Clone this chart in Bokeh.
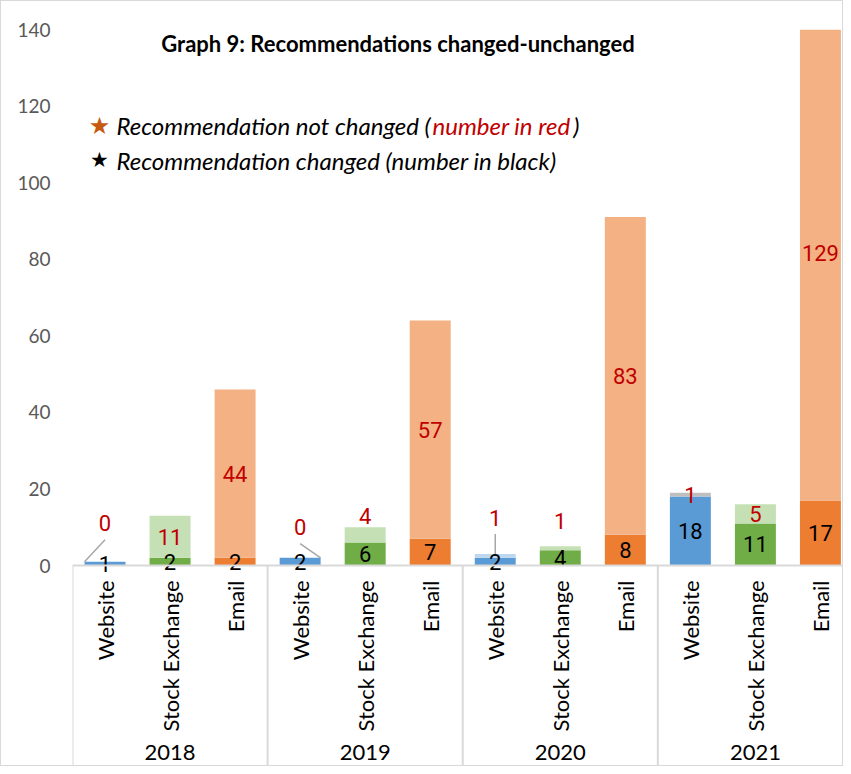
import math
from bokeh.plotting import figure
from bokeh.models import ColumnDataSource, Range1d, FixedTicker, Label, Span
from bokeh.core.properties import value
from bokeh.embed import file_html
from bokeh.resources import INLINE

# ---------------- data ----------------
years = ["2018", "2019", "2020", "2021"]
channels = ["Website", "Stock Exchange", "Email"]
changed = [1, 2, 2, 2, 6, 7, 2, 4, 8, 18, 11, 17]          # number in black
not_changed = [0, 11, 44, 0, 4, 57, 1, 1, 83, 1, 5, 129]   # number in red
y_ticks = [0, 20, 40, 60, 80, 100, 120, 140]

# ---------------- label placement (manually moved labels, data units) ----------------
red_label_y = [11, None, None, 10, 12.8, None, 12.5, 11.5, None, None, None, None]
leaders = [(0, -1), (3, 1), (6, 0)]  # (bar index, attach side)

# ---------------- styles ----------------
dark = {"Website": "#5B9BD5", "Stock Exchange": "#70AD47", "Email": "#ED7D31"}
light = {"Website": "#BDD7EE", "Stock Exchange": "#C5E0B4", "Email": "#F4B183"}
light_override = {("2021", "Website"): "#BFBFBF"}
BAR_W = 0.63
Y_MIN, Y_MAX = -52.76, 140
X_MAX = 11.87

n_ch = len(channels)
cats = [(y, c) for y in years for c in channels]
xs = [i + 0.5 for i in range(len(cats))]
totals = [a + b for a, b in zip(changed, not_changed)]

src = ColumnDataSource(dict(
    x=xs,
    changed=changed,
    total=totals,
    dark=[dark[c] for _, c in cats],
    light=[light_override.get((y, c), light[c]) for y, c in cats],
    black_y=[v / 2 for v in changed],
    black_txt=[str(v) for v in changed],
    red_y=[ry if ry is not None else a + b / 2 for ry, a, b in zip(red_label_y, changed, not_changed)],
    red_txt=[str(v) for v in not_changed],
    cat=[c for _, c in cats],
))

p = figure(width=843, height=766, output_backend="svg", toolbar_location=None,
           x_range=Range1d(0, X_MAX), y_range=Range1d(Y_MIN, Y_MAX),
           min_border_left=71, min_border_top=28, min_border_right=0, min_border_bottom=0,
           x_axis_location=None)
p.styles = {"border": "1px solid #D9D9D9", "box-sizing": "border-box"}
p.outline_line_color = None
p.xgrid.visible = False
p.ygrid.visible = False

ax = p.yaxis[0]
ax.ticker = FixedTicker(ticks=y_ticks)
ax.axis_line_color = None
ax.major_tick_line_color = None
ax.minor_tick_line_color = None
ax.major_tick_out = 0
ax.major_label_standoff = 22
ax.major_label_text_font = "Lato"
ax.major_label_text_font_size = "19px"
ax.major_label_text_color = "#595959"

# bars
p.vbar(x="x", bottom=0, top="changed", width=BAR_W, fill_color="dark", line_color=None, source=src)
p.vbar(x="x", bottom="changed", top="total", width=BAR_W, fill_color="light", line_color=None, source=src)

# axis line and group separators
p.add_layout(Span(location=0, dimension="width", line_color="#D9D9D9", line_width=2))
sep_x = [g * n_ch for g in range(len(years))]
p.segment(x0=sep_x, y0=[0] * len(sep_x), x1=sep_x, y1=[Y_MIN] * len(sep_x),
          line_color="#D9D9D9", line_width=2)

# leader lines
lx0, ly0, lx1, ly1 = [], [], [], []
for i, side in leaders:
    lx0.append(xs[i])
    ly0.append(src.data["red_y"][i] - 4.3)
    lx1.append(xs[i] + side * BAR_W / 2)
    ly1.append(totals[i])
p.segment(x0=lx0, y0=ly0, x1=lx1, y1=ly1, line_color="#A6A6A6", line_width=1.5)

# data labels
p.text(x="x", y="black_y", text="black_txt", source=src, text_align="center",
       text_baseline="middle", text_font=value("Roboto"), text_font_size="22px",
       text_color="#000000")
p.text(x="x", y="red_y", text="red_txt", source=src, text_align="center",
       text_baseline="middle", text_font=value("Roboto"), text_font_size="22px",
       text_color="#C00000")

# category labels
p.text(x="x", y=-3.9, text="cat", source=src, angle=math.pi / 2, text_align="right",
       text_baseline="middle", text_font=value("Lato"), text_font_size="22px",
       text_color="#000000")
grp_x = [g * n_ch + n_ch / 2 for g in range(len(years))]
p.text(x=grp_x, y=[-48.8] * len(years), text=years, text_align="center",
       text_baseline="middle", text_font=value("Lato"), text_font_size="22px",
       text_color="#000000")

# title
p.add_layout(Label(x=5.005, y=136.3, text="Graph 9: Recommendations changed-unchanged",
                   text_align="center", text_baseline="middle", text_font="Lato",
                   text_font_style="bold", text_font_size="22px", text_color="#000000"))

# legend-like notes
p.add_layout(Label(x=0.415, y=114.9, text="★", text_align="center", text_baseline="middle",
                   text_font="DejaVu Sans", text_font_size="24px", text_color="#C55A11"))
p.add_layout(Label(x=0.415, y=105.8, text="★", text_align="center", text_baseline="middle",
                   text_font="DejaVu Sans", text_font_size="21px", text_color="#000000"))
note_font = dict(text_baseline="middle", text_font="Lato", text_font_style="italic",
                 text_font_size="24px")
p.add_layout(Label(x=0.6765, y=114.9, text="Recommendation not changed (",
                   text_color="#000000", **note_font))
p.add_layout(Label(x=5.535, y=114.9, text="number in red", text_color="#C00000", **note_font))
p.add_layout(Label(x=7.70, y=114.9, text=")", text_color="#000000", **note_font))
p.add_layout(Label(x=0.6765, y=105.8, text="Recommendation changed (number in black)",
                   text_color="#000000", **note_font))

open("out.html", "w").write(file_html(p, INLINE))
